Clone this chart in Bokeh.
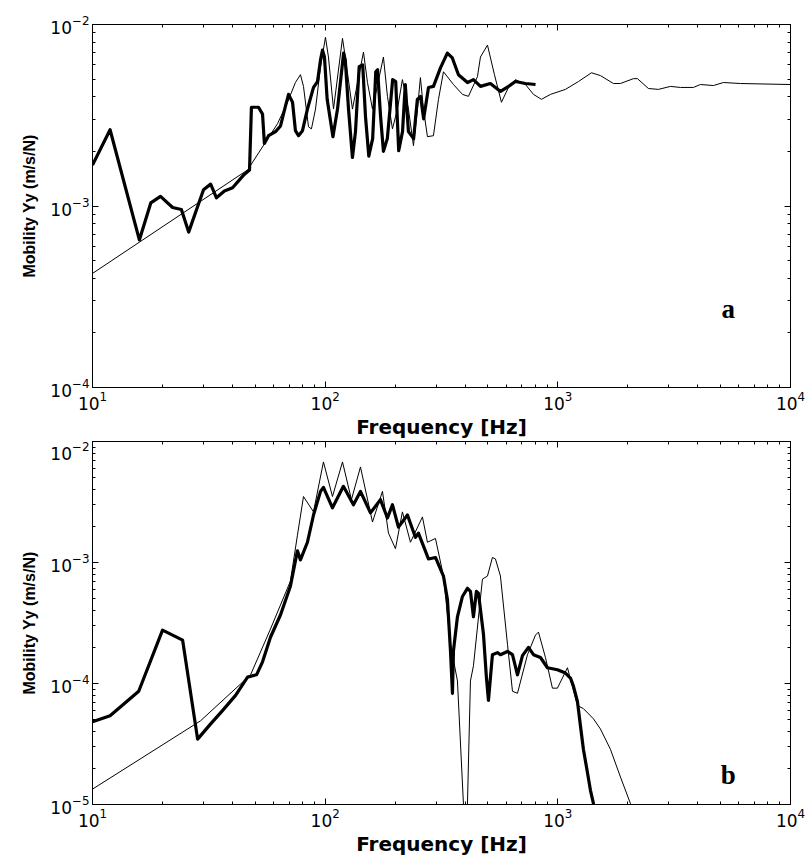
from bokeh.plotting import figure
from bokeh.models import LogAxis, FixedTicker, Range1d, Label
from bokeh.layouts import column
from bokeh.embed import file_html
from bokeh.resources import INLINE

# ---- panel a: measured (thick) and computed (thin) mobility ----
freq_a_meas = [10, 11.9, 15.9, 17.8, 19.6, 22.1, 24.1, 25.9, 30.0, 32.2, 34.1, 36.9,
               40.0, 44.6, 47.3, 48.2, 51.7, 53.8, 54.8, 57.1, 61.2, 64.3, 67.5, 69.6,
               72.4, 74.5, 76.8, 79.9, 83.9, 89.1, 92.7, 95.5, 97.4, 99.3, 102, 108,
               113, 120, 122, 126, 131, 135, 140, 145, 149, 154, 160, 165, 168, 173,
               178, 185, 195, 201, 207, 215, 221, 228, 240, 249, 257, 265, 278, 292,
               313, 335, 352, 374, 409, 434, 465, 513, 567, 614, 657, 726, 802]
mob_a_meas = [1.68e-3, 2.63e-3, 6.5e-4, 1.04e-3, 1.13e-3, 9.81e-4, 9.57e-4, 7.18e-4,
              1.23e-3, 1.32e-3, 1.11e-3, 1.21e-3, 1.26e-3, 1.48e-3, 1.58e-3, 3.50e-3,
              3.50e-3, 3.21e-3, 2.21e-3, 2.44e-3, 2.57e-3, 2.76e-3, 3.55e-3, 4.12e-3,
              3.73e-3, 2.60e-3, 2.44e-3, 2.60e-3, 3.42e-3, 4.50e-3, 4.85e-3, 6.38e-3,
              7.23e-3, 6.62e-3, 3.87e-3, 2.41e-3, 3.42e-3, 6.96e-3, 6.38e-3, 3.42e-3,
              1.85e-3, 2.57e-3, 5.85e-3, 5.99e-3, 3.13e-3, 1.88e-3, 2.35e-3, 5.49e-3,
              5.63e-3, 3.13e-3, 2.00e-3, 2.35e-3, 4.97e-3, 4.85e-3, 2.02e-3, 2.57e-3,
              4.67e-3, 2.57e-3, 2.35e-3, 3.87e-3, 4.02e-3, 3.02e-3, 4.50e-3, 4.56e-3,
              5.77e-3, 6.96e-3, 6.54e-3, 5.29e-3, 4.79e-3, 4.97e-3, 4.56e-3, 4.73e-3,
              4.28e-3, 4.56e-3, 4.85e-3, 4.73e-3, 4.67e-3]

freq_a_model = [10, 46.4, 62.4, 68.9, 74.5, 78.3, 80.7, 84.8, 87.3, 90.9, 95.5, 100.3,
                103.3, 108.6, 118.7, 122.2, 131.0, 146.1, 152.0, 159.7, 178.0, 185.2,
                194.6, 204.5, 214.8, 228.0, 239.6, 249.2, 256.7, 264.5, 275.2, 292.0,
                306.9, 322.4, 356.0, 389.1, 412.8, 451.3, 465.0, 498.4, 534.0, 572.3,
                613.5, 657.4, 726.0, 785.8, 850.5, 929.5, 1078, 1226, 1395, 1524, 1734,
                1858, 2113, 2199, 2451, 2706, 3047, 3365, 3825, 4101, 4664, 5148, 6091,
                10000]
mob_a_model = [4.25e-4, 1.58e-3, 2.84e-3, 3.73e-3, 4.79e-3, 5.29e-3, 4.56e-3, 2.73e-3,
               2.66e-3, 3.42e-3, 5.85e-3, 8.50e-3, 6.62e-3, 3.42e-3, 8.39e-3, 6.54e-3,
               3.42e-3, 7.05e-3, 4.79e-3, 3.42e-3, 6.62e-3, 4.02e-3, 2.66e-3, 3.42e-3,
               4.97e-3, 3.42e-3, 2.15e-3, 3.42e-3, 5.10e-3, 3.42e-3, 2.41e-3, 2.44e-3,
               3.87e-3, 5.49e-3, 4.67e-3, 4.12e-3, 4.02e-3, 5.16e-3, 6.62e-3, 7.70e-3,
               5.29e-3, 3.73e-3, 4.50e-3, 4.97e-3, 4.67e-3, 4.12e-3, 3.87e-3, 4.12e-3,
               4.39e-3, 4.85e-3, 5.42e-3, 5.23e-3, 4.73e-3, 4.73e-3, 5.03e-3, 5.03e-3,
               4.44e-3, 4.39e-3, 4.56e-3, 4.50e-3, 4.50e-3, 4.67e-3, 4.61e-3, 4.79e-3,
               4.73e-3, 4.67e-3]

# ---- panel b: measured (thick) and computed (thin) mobility ----
freq_b_meas = [10, 11.9, 15.8, 20.0, 24.4, 28.3, 32.2, 36.2, 41.2, 46.4, 50.7, 53.8,
               58.2, 64.3, 70.9, 76.0, 78.3, 83.9, 89.1, 95.5, 98.3, 107.5, 119.8,
               132.3, 141.8, 156.6, 172.8, 185.2, 194.6, 206.5, 225.8, 244.4, 251.7,
               277.9, 297.9, 322.4, 335.4, 345.6, 352.4, 356.0, 370.3, 389.1, 408.8,
               421.1, 433.8, 446.9, 456.0, 479.0, 493.4, 503.3, 523.5, 550.1, 566.6,
               607.5, 638.3, 670.7, 704.7, 747.6, 785.8, 842.0, 902.5, 996, 1078, 1133,
               1167, 1214, 1251, 1288, 1341, 1381, 1422, 1430]
mob_b_meas = [4.82e-5, 5.42e-5, 8.63e-5, 2.76e-4, 2.28e-4, 3.47e-5, 4.64e-5, 5.97e-5,
              7.98e-5, 1.13e-4, 1.18e-4, 1.51e-4, 2.41e-4, 3.70e-4, 6.36e-4, 1.25e-3,
              1.05e-3, 1.47e-3, 2.47e-3, 3.87e-3, 4.18e-3, 2.83e-3, 4.26e-3, 3.00e-3,
              3.87e-3, 2.57e-3, 3.31e-3, 2.33e-3, 3.00e-3, 1.96e-3, 2.47e-3, 1.61e-3,
              1.75e-3, 1.07e-3, 1.10e-3, 7.73e-4, 4.94e-4, 1.87e-4, 8.30e-5, 1.87e-4,
              3.56e-4, 5.24e-4, 6.12e-4, 5.78e-4, 3.56e-4, 5.78e-4, 5.56e-4, 2.56e-4,
              1.11e-4, 7.25e-5, 1.73e-4, 1.80e-4, 1.73e-4, 1.84e-4, 1.73e-4, 1.18e-4,
              1.70e-4, 1.99e-4, 1.73e-4, 1.64e-4, 1.35e-4, 1.30e-4, 1.22e-4, 1.11e-4,
              9.51e-5, 7.11e-5, 4.46e-5, 2.86e-5, 1.83e-5, 1.31e-5, 1.02e-5, 9.5e-6]

freq_b_model = [10, 29.1, 47.8, 58.2, 70.9, 76.0, 80.7, 89.1, 98.3, 107.5, 118.7,
                129.7, 141.8, 159.7, 176.3, 187.1, 200.5, 214.8, 232.6, 261.9, 275.2,
                297.9, 322.4, 345.6, 370.3, 393.0, 400.9, 408.8, 421.1, 433.8, 474.2,
                498.4, 523.5, 539.3, 566.6, 607.5, 638.3, 670.7, 740.4, 801.5, 825.5,
                884.8, 948.0, 996, 1100, 1214, 1288, 1422, 1524, 1683, 1858, 2051, 2070]
mob_b_model = [1.34e-5, 4.91e-5, 1.18e-4, 2.82e-4, 7.01e-4, 1.68e-3, 3.51e-3, 2.62e-3,
               6.78e-3, 3.51e-3, 6.78e-3, 3.31e-3, 6.16e-3, 2.16e-3, 3.87e-3, 1.75e-3,
               1.30e-3, 2.62e-3, 1.47e-3, 2.38e-3, 1.47e-3, 1.58e-3, 7.73e-4, 2.11e-4,
               1.05e-4, 1.0e-5, 3.0e-6, 1.0e-5, 1.05e-4, 1.40e-4, 7.29e-4, 7.73e-4,
               1.10e-3, 1.07e-3, 7.73e-4, 2.11e-4, 8.63e-5, 8.30e-5, 1.73e-4, 2.51e-4,
               2.66e-4, 1.64e-4, 9.15e-5, 9.15e-5, 1.35e-4, 6.58e-5, 6.20e-5, 5.11e-5,
               4.21e-5, 2.86e-5, 1.69e-5, 1.02e-5, 9.0e-6]

y_label = "Mobility Yy (m/s/N)"
x_label = "Frequency [Hz]"
panel_tags = ["a", "b"]
tag_pos = [(5400, 2.7e-4), (5400, 1.76e-5)]
freq_decades = [1, 2, 3, 4]
mob_decades_a = [-4, -3, -2]
mob_decades_b = [-5, -4, -3, -2]

TICK_FONT = "DejaVu Sans"
LABEL_FONT = "Liberation Sans"


def decade_ticker(exponents):
    # major ticks at the decades, minor ticks at 2..9 within each decade
    majors = [10.0 ** e for e in exponents]
    minors = [k * 10.0 ** e for e in exponents[:-1] for k in range(2, 10)]
    return FixedTicker(ticks=majors, minor_ticks=minors)


def style_axis(ax, exponents, labels=True):
    ax.ticker = decade_ticker(exponents)
    ax.axis_line_color = "black"
    ax.axis_line_width = 1
    ax.major_tick_in = 6
    ax.major_tick_out = 0
    ax.minor_tick_in = 3
    ax.minor_tick_out = 0
    ax.major_tick_line_color = "black"
    ax.minor_tick_line_color = "black"
    if labels:
        ax.major_label_text_font = TICK_FONT
        ax.major_label_text_font_size = "17px"
        ax.major_label_text_color = "black"
        ax.major_label_standoff = 3
    else:
        # tick marks only on the opposite sides of the frame
        ax.major_label_text_font_size = "1px"
        ax.major_label_text_alpha = 0
        ax.major_label_standoff = 0


def make_panel(height, y_dec, top_border, bottom_border,
               f_meas, m_meas, f_model, m_model, tag, tag_xy):
    p = figure(width=810, height=height, x_axis_type="log", y_axis_type="log",
               x_range=Range1d(10.0 ** freq_decades[0], 10.0 ** freq_decades[-1]),
               y_range=Range1d(10.0 ** y_dec[0], 10.0 ** y_dec[-1]),
               output_backend="svg", toolbar_location=None,
               min_border_left=92, min_border_right=20,
               min_border_top=top_border, min_border_bottom=bottom_border)
    p.xgrid.visible = False
    p.ygrid.visible = False
    p.outline_line_color = "black"
    p.outline_line_width = 1
    p.background_fill_color = "white"
    p.border_fill_color = "white"

    p.line(f_model, m_model, line_color="black", line_width=1)
    p.line(f_meas, m_meas, line_color="black", line_width=3.2, line_join="round")

    for ax in p.xaxis:
        style_axis(ax, freq_decades)
    for ax in p.yaxis:
        style_axis(ax, y_dec)
    p.xaxis.axis_label = x_label
    p.yaxis.axis_label = y_label
    p.xaxis.axis_label_text_font = "DejaVu Sans"
    p.xaxis.axis_label_text_font_style = "bold"
    p.xaxis.axis_label_text_font_size = "20px"
    p.xaxis.axis_label_text_color = "black"
    p.xaxis.axis_label_standoff = 2
    p.yaxis.axis_label_text_font = LABEL_FONT
    p.yaxis.axis_label_text_font_style = "bold"
    p.yaxis.axis_label_text_font_size = "16px"
    p.yaxis.axis_label_text_color = "black"
    p.yaxis.axis_label_standoff = 9

    top = LogAxis()
    right = LogAxis()
    style_axis(top, freq_decades, labels=False)
    style_axis(right, y_dec, labels=False)
    p.add_layout(top, "above")
    p.add_layout(right, "right")

    p.add_layout(Label(x=tag_xy[0], y=tag_xy[1], text=tag,
                       text_font="Liberation Serif", text_font_style="bold",
                       text_font_size="27px", text_align="center",
                       text_baseline="middle", text_color="black"))
    return p


p_a = make_panel(441, mob_decades_a, 24, 48,
                 freq_a_meas, mob_a_meas, freq_a_model, mob_a_model,
                 panel_tags[0], tag_pos[0])
p_b = make_panel(419, mob_decades_b, 0, 56,
                 freq_b_meas, mob_b_meas, freq_b_model, mob_b_model,
                 panel_tags[1], tag_pos[1])

layout = column(p_a, p_b, spacing=0)
open("out.html", "w").write(file_html(layout, INLINE))
